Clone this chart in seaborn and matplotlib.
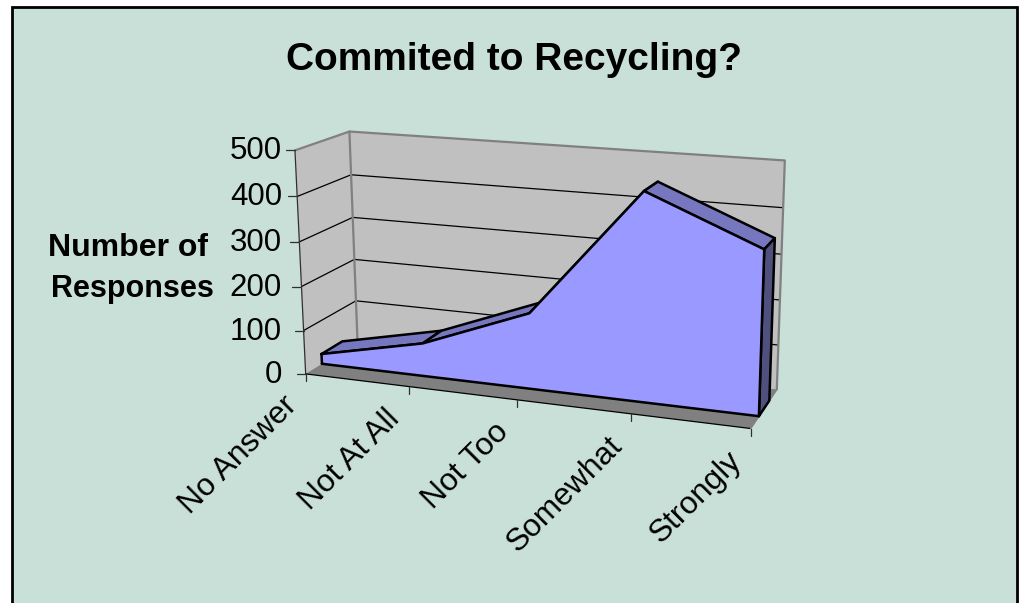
import numpy as np
import matplotlib
matplotlib.use('Agg')
import matplotlib.pyplot as plt
from matplotlib.patches import Rectangle
import seaborn as sns

categories = ['No Answer', 'Not At All', 'Not Too', 'Somewhat', 'Strongly']
responses = [23, 75, 169, 452, 352]
value_ticks = [0, 100, 200, 300, 400, 500]

PANEL = '#C9E0D8'
WALL = '#C0C0C0'
FLOOR = '#808080'
FRONT = '#9999FF'
TOP = '#7777BF'
SIDE = '#50507F'
DEPTH_FRONT, DEPTH_BACK = 0.3, 0.7

sns.set_theme(style='white')
plt.rcParams['font.family'] = ['Liberation Sans', 'DejaVu Sans']

#%% camera: box position (category, value, depth) -> picture pixels
cal_box = np.array([(0, 0, 0), (0, 100, 0), (0, 200, 0), (0, 300, 0), (0, 400, 0), (0, 500, 0),
                    (1, 0, 0), (2, 0, 0), (3, 0, 0), (4, 0, 0),
                    (0, 0, 1), (0, 100, 1), (0, 200, 1), (0, 300, 1), (0, 400, 1), (0, 500, 1),
                    (4, 0, 1), (4, 100, 1), (4, 200, 1), (4, 300, 1), (4, 400, 1), (4, 500, 1)], float)
cal_px = np.array([(305.7, 372.7), (303.3, 330.7), (301, 286), (299, 242.7), (297.3, 196.7), (295.7, 150),
                   (409.3, 386.5), (517.3, 401), (631, 414), (750.7, 428.3),
                   (358, 343), (356.3, 301), (354, 258.3), (352.7, 216.7), (351, 174.3), (349, 132.7),
                   (777.3, 389.3), (778.3, 344), (779.3, 300.7), (780.7, 255), (783.3, 206.7), (785.7, 160.7)])
rows, rhs = [], []
for (a, b, c), (px, py) in zip(cal_box, cal_px):
    rows.append([a, b, c, 1, 0, 0, 0, 0, -px * a, -px * b, -px * c])
    rows.append([0, 0, 0, 0, a, b, c, 1, -py * a, -py * b, -py * c])
    rhs += [px, py]
cam = np.append(np.linalg.lstsq(np.array(rows), np.array(rhs), rcond=None)[0], 1).reshape(3, 4)


def proj(u, v, d):
    h = cam @ np.array([u, v, d, 1.0])
    return h[0] / h[2], h[1] / h[2]


def face(ax, pts, color, z):
    ax.fill(*zip(*[proj(*p) for p in pts]), color=color, lw=0, zorder=z)


def edge(ax, pts, color, lw, z):
    xy = np.array([proj(*p) for p in pts])
    sns.lineplot(x=xy[:, 0], y=xy[:, 1], sort=False, estimator=None, color=color, lw=lw,
                 zorder=z, ax=ax, legend=False, solid_capstyle='round', solid_joinstyle='round')


#%% figure
fig = plt.figure(figsize=(10.24, 6.03), dpi=100, facecolor='white')
ax = fig.add_axes([0, 0, 1, 1])
ax.add_patch(Rectangle((12, 7), 1005, 620, fc=PANEL, ec='black', lw=2, zorder=0))

# walls and floor
face(ax, [(0, 0, 1), (0, 500, 1), (4, 500, 1), (4, 0, 1)], WALL, 1)
face(ax, [(0, 0, 0), (0, 500, 0), (0, 500, 1), (0, 0, 1)], WALL, 1)
face(ax, [(0, 0, 0), (4, 0, 0), (4, 0, 1), (0, 0, 1)], FLOOR, 1)

for v in value_ticks[1:-1]:
    edge(ax, [(0, v, 0), (0, v, 1), (4, v, 1)], 'black', 0.9, 2)
edge(ax, [(0, 500, 0), (0, 500, 1), (4, 500, 1), (4, 0, 1)], FLOOR, 1.6, 2)
edge(ax, [(0, 500, 1), (0, 0, 1)], FLOOR, 1.6, 2)
edge(ax, [(0, 0, 0), (4, 0, 0)], 'black', 0.9, 2)
edge(ax, [(4, 0, 0), (4, 0, 1)], FLOOR, 1.2, 2)
edge(ax, [(0, 0, 0), (0, 500, 0)], '#303030', 0.9, 2)

# axis ticks and labels
for v in value_ticks:
    x, y = proj(0, v, 0)
    ax.plot([x - 9, x], [y, y], color='#303030', lw=0.9, zorder=2)
    ax.text(282, y + 1, str(v), ha='right', va='center', fontsize=22.5, color='black')
for i, name in enumerate(categories):
    x, y = proj(i, 0, 0)
    ax.plot([x, x], [y, y + 7], color='#303030', lw=0.9, zorder=2)
    ax.text(x - 24, y + 17, name, rotation=45, rotation_mode='anchor', ha='right', va='top',
            fontsize=22.8, color='black')

# area series: top strips, end cap, then the front face
us = np.arange(len(responses))
for i in range(len(responses) - 1):
    strip = [(us[i], responses[i], DEPTH_FRONT), (us[i + 1], responses[i + 1], DEPTH_FRONT),
             (us[i + 1], responses[i + 1], DEPTH_BACK), (us[i], responses[i], DEPTH_BACK)]
    face(ax, strip, TOP, 3 + i * 0.01)
    edge(ax, strip + strip[:1], 'black', 1.8, 3 + i * 0.01)
cap = [(4, 0, DEPTH_FRONT), (4, responses[-1], DEPTH_FRONT), (4, responses[-1], DEPTH_BACK), (4, 0, DEPTH_BACK)]
face(ax, cap, SIDE, 4)
edge(ax, cap + cap[:1], 'black', 1.8, 4)
outline = [(0, 0, DEPTH_FRONT)] + [(u, r, DEPTH_FRONT) for u, r in zip(us, responses)] + [(4, 0, DEPTH_FRONT), (0, 0, DEPTH_FRONT)]
face(ax, outline, FRONT, 5)
edge(ax, outline, 'black', 1.8, 5)

ax.text(514, 60, 'Commited to Recycling?', ha='center', va='center', fontsize=28, fontweight='bold', color='black')
ax.text(128.5, 248, 'Number of', ha='center', va='center', fontsize=23, fontweight='bold', color='black')
ax.text(132.5, 289, 'Responses', ha='center', va='center', fontsize=22, fontweight='bold', color='black')

ax.set_xlim(0, 1024)
ax.set_ylim(603, 0)
ax.set_axis_off()
fig.savefig('out.png', dpi=100, facecolor='white')
